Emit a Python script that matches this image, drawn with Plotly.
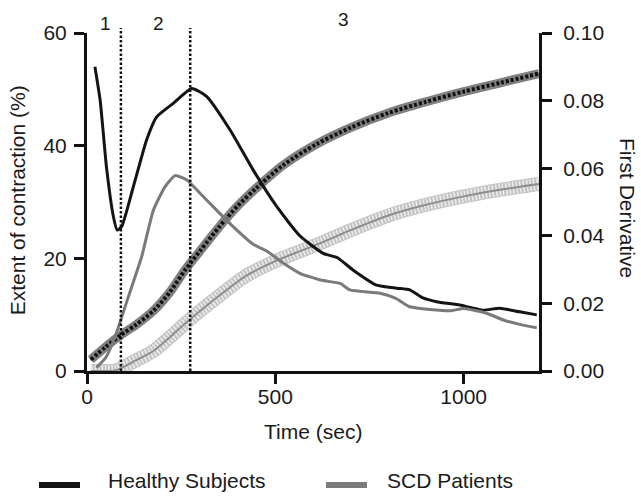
import plotly.graph_objects as go

# ---- data ----
# Extent of contraction (%), left axis
healthy_ext_t = [10, 50, 90, 130, 175, 220, 260, 300, 350, 400, 450, 520, 610, 700, 800, 900, 1000, 1100, 1200]
healthy_ext = [2.0, 4.3, 6.4, 8.2, 10.6, 14.0, 17.9, 21.3, 25.5, 29.3, 32.5, 36.5, 40.3, 43.2, 45.8, 47.8, 49.6, 51.2, 52.8]

scd_ext_t = [10, 50, 80, 133, 175, 220, 265, 310, 350, 420, 500, 620, 700, 800, 900, 1000, 1100, 1200]
scd_ext = [0.0, 0.0, 0.2, 2.0, 3.5, 6.0, 8.7, 11.2, 13.3, 16.8, 19.5, 22.7, 25.0, 27.6, 29.5, 31.0, 32.2, 33.2]

# First derivative, right axis
healthy_der_t = [21, 35, 52, 70, 80, 92, 123, 158, 185, 229, 278, 318, 380, 441, 504, 565, 627, 665, 706,
                 769, 822, 857, 892, 928, 990, 1051, 1096, 1149, 1194]
healthy_der = [0.090, 0.080, 0.060, 0.0457, 0.0417, 0.0427, 0.0545, 0.0683, 0.0752, 0.0792, 0.0836, 0.0812,
               0.0713, 0.0595, 0.0486, 0.0400, 0.0348, 0.0335, 0.0299, 0.0254, 0.0245, 0.0240, 0.0216,
               0.0205, 0.0195, 0.0180, 0.0186, 0.0175, 0.0166]

scd_der_t = [25, 50, 74, 110, 145, 176, 207, 234, 265, 300, 344, 388, 441, 477, 520, 565, 620, 672, 698,
             778, 820, 857, 964, 1000, 1061, 1105, 1149, 1194]
scd_der = [0.001, 0.004, 0.010, 0.022, 0.0338, 0.0475, 0.0545, 0.0578, 0.0565, 0.0526, 0.0476, 0.0427,
           0.0375, 0.0355, 0.0320, 0.0289, 0.0269, 0.0259, 0.0240, 0.0230, 0.0215, 0.0190, 0.0178,
           0.0185, 0.0171, 0.0151, 0.0138, 0.0128]

phase_bounds = [90, 274]
phase_labels = ["1", "2", "3"]
phase_label_t = [50, 189, 682]
phase_label_y = [1.027, 1.027, 1.041]

series_names = ["Healthy Subjects", "SCD Patients"]
series_colors = ["#141414", "#7a7a7a"]

x_ticks = [0, 500, 1000]
y_left_ticks = [0, 20, 40, 60]
y_right_ticks = [0, 0.02, 0.04, 0.06, 0.08, 0.10]

FONT = "Arial, 'Liberation Sans', Helvetica, sans-serif"
TXT = "#1a1a1a"

fig = go.Figure()

# SCD extent: light hatched band with a darker centre line
fig.add_trace(go.Scatter(x=scd_ext_t, y=scd_ext, mode="lines", showlegend=False, hoverinfo="skip",
                         line=dict(color="#c4c4c4", width=14, shape="spline", smoothing=0.8)))
fig.add_trace(go.Scatter(x=scd_ext_t, y=scd_ext, mode="lines", showlegend=False, hoverinfo="skip",
                         line=dict(color="#ececec", width=12, shape="spline", smoothing=0.8, dash="1.5px,2px")))
fig.add_trace(go.Scatter(x=scd_ext_t, y=scd_ext, mode="lines", showlegend=False, hoverinfo="skip",
                         line=dict(color="#8e8e8e", width=2, shape="spline", smoothing=0.8)))

# Healthy extent: grey halo with dark beaded centre
fig.add_trace(go.Scatter(x=healthy_ext_t, y=healthy_ext, mode="lines", showlegend=False, hoverinfo="skip",
                         line=dict(color="#808080", width=9, shape="spline", smoothing=0.8)))
fig.add_trace(go.Scatter(x=healthy_ext_t, y=healthy_ext, mode="lines", showlegend=False, hoverinfo="skip",
                         line=dict(color="#111111", width=4, shape="spline", smoothing=0.8, dash="3px,2px")))

# First derivative lines (right axis)
fig.add_trace(go.Scatter(x=healthy_der_t, y=healthy_der, mode="lines", name=series_names[0], yaxis="y2",
                         showlegend=False,
                         line=dict(color=series_colors[0], width=3, shape="spline", smoothing=0.5)))
fig.add_trace(go.Scatter(x=scd_der_t, y=scd_der, mode="lines", name=series_names[1], yaxis="y2",
                         showlegend=False,
                         line=dict(color=series_colors[1], width=3, shape="spline", smoothing=0.5)))

shapes = []
for b in phase_bounds:
    shapes.append(dict(type="line", xref="x", yref="paper", x0=b, x1=b, y0=0, y1=1.015,
                       line=dict(color="#111111", width=2.5, dash="2.5px,2px")))

# legend keys (drawn below the plot, in paper coordinates)
legend_key_x = [(-0.1062, -0.0155), (0.5288, 0.6195)]
legend_text_x = [0.042, 0.6593]
for (x0, x1), col in zip(legend_key_x, series_colors):
    shapes.append(dict(type="line", xref="paper", yref="paper", x0=x0, x1=x1, y0=-0.3373, y1=-0.3373,
                       line=dict(color=col, width=6)))

annotations = []
for lab, t, yy in zip(phase_labels, phase_label_t, phase_label_y):
    annotations.append(dict(text=lab, x=t, xref="x", y=yy, yref="paper", showarrow=False,
                            font=dict(size=19, color=TXT, family=FONT), xanchor="center", yanchor="middle"))
for name, tx in zip(series_names, legend_text_x):
    annotations.append(dict(text=name, x=tx, xref="paper", y=-0.3254, yref="paper", showarrow=False,
                            font=dict(size=21, color=TXT, family=FONT), xanchor="left", yanchor="middle"))
annotations.append(dict(text="Extent of contraction (%)", x=-0.155, xref="paper", y=0.505, yref="paper",
                        textangle=-90, showarrow=False, font=dict(size=21, color=TXT, family=FONT),
                        xanchor="center", yanchor="middle"))
annotations.append(dict(text="First Derivative", x=1.197, xref="paper", y=0.482, yref="paper",
                        textangle=90, showarrow=False, font=dict(size=21, color=TXT, family=FONT),
                        xanchor="center", yanchor="middle"))
annotations.append(dict(text="Time (sec)", x=0.5, xref="paper", y=-0.18, yref="paper",
                        showarrow=False, font=dict(size=21, color=TXT, family=FONT),
                        xanchor="center", yanchor="middle"))

axis_common = dict(showgrid=False, zeroline=False, showline=True, linecolor="#111111", linewidth=3,
                   ticks="outside", ticklen=10, tickwidth=3, tickcolor="#111111",
                   tickfont=dict(size=21, color=TXT, family=FONT))

fig.update_layout(
    width=641, height=496,
    margin=dict(l=87, r=102, t=33, b=125, autoexpand=False),
    paper_bgcolor="white", plot_bgcolor="white",
    font=dict(family=FONT, color=TXT, size=21),
    xaxis=dict(range=[0, 1200], tickvals=x_ticks, ticklabelstandoff=-5, **axis_common),
    yaxis=dict(range=[0, 60], tickvals=y_left_ticks, ticklabelstandoff=3, **axis_common),
    yaxis2=dict(range=[0, 0.10], tickvals=y_right_ticks, tickformat=".2f", overlaying="y", side="right",
                ticklabelstandoff=7, **axis_common),
    showlegend=False,
    shapes=shapes, annotations=annotations,
)

fig.write_html("out.html")
